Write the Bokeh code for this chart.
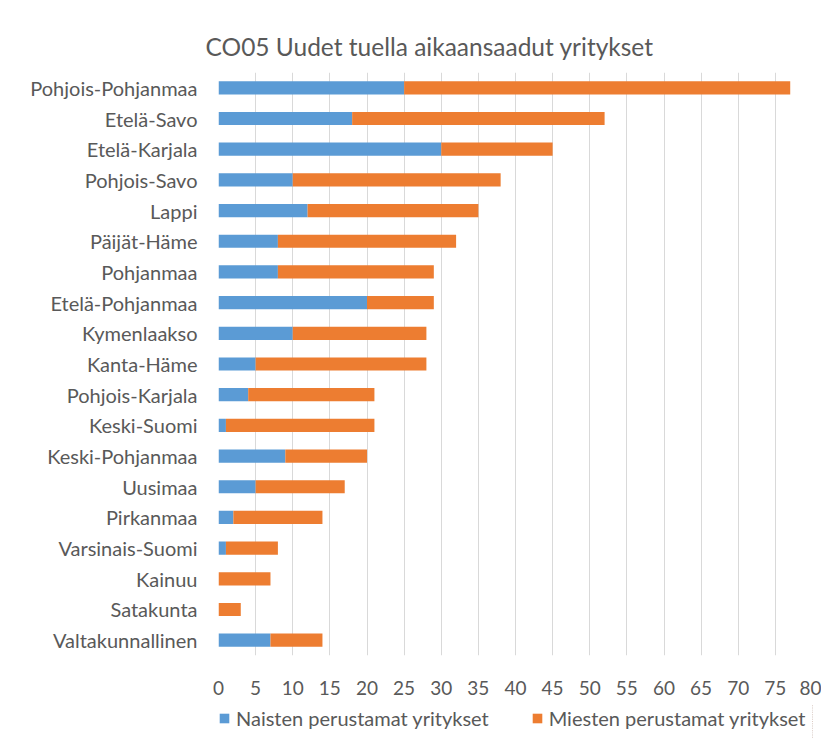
from bokeh.plotting import figure
from bokeh.layouts import column
from bokeh.models import ColumnDataSource, FactorRange, Range1d, FixedTicker, Legend, LegendItem
from bokeh.embed import file_html
from bokeh.resources import INLINE

regions = ["Pohjois-Pohjanmaa", "Etelä-Savo", "Etelä-Karjala", "Pohjois-Savo", "Lappi",
           "Päijät-Häme", "Pohjanmaa", "Etelä-Pohjanmaa", "Kymenlaakso", "Kanta-Häme",
           "Pohjois-Karjala", "Keski-Suomi", "Keski-Pohjanmaa", "Uusimaa", "Pirkanmaa",
           "Varsinais-Suomi", "Kainuu", "Satakunta", "Valtakunnallinen"]
naiset = [25, 18, 30, 10, 12, 8, 8, 20, 10, 5, 4, 1, 9, 5, 2, 1, 0, 0, 7]
miehet = [52, 34, 15, 28, 23, 24, 21, 9, 18, 23, 17, 20, 11, 12, 12, 7, 7, 3, 7]
x_ticks = list(range(0, 85, 5))

series_labels = ["Naisten perustamat yritykset", "Miesten perustamat yritykset"]
colors = ["#5B9BD5", "#ED7D31"]
FONT = "Lato"
TXT = "#595959"

source = ColumnDataSource(dict(region=regions, naiset=naiset, miehet=miehet))

p = figure(width=821, height=704, output_backend="svg", toolbar_location=None,
           y_range=FactorRange(factors=list(reversed(regions)), range_padding=0),
           x_range=Range1d(0, 80),
           title="CO05 Uudet tuella aikaansaadut yritykset")
p.min_border_left = 218
p.min_border_right = 9
p.min_border_top = 72
p.min_border_bottom = 49
p.outline_line_color = None

renderers = p.hbar_stack(["naiset", "miehet"], y="region", height=0.43, color=colors,
                         line_color=None, source=source)

p.title.align = "left"
p.title.offset = -13
p.title.text_font = FONT
p.title.text_font_size = "24.5px"
p.title.text_font_style = "normal"
p.title.text_color = TXT
p.title.standoff = 24

p.xaxis.ticker = FixedTicker(ticks=x_ticks)
p.xaxis.axis_line_color = None
p.xaxis.major_tick_line_color = None
p.xaxis.minor_tick_line_color = None
p.xaxis.major_tick_out = 0
p.xaxis.major_label_standoff = 25
p.xaxis.major_label_text_font = FONT
p.xaxis.major_label_text_font_size = "19px"
p.xaxis.major_label_text_color = TXT

p.yaxis.axis_line_color = None
p.yaxis.major_tick_line_color = None
p.yaxis.major_tick_out = 0
p.yaxis.major_label_standoff = 21
p.yaxis.major_label_text_font = FONT
p.yaxis.major_label_text_font_size = "20px"
p.yaxis.major_label_text_color = TXT

p.xgrid.grid_line_color = "#D9D9D9"
p.ygrid.grid_line_color = None

# legend strip below the chart (its series are kept out of view; only the legend shows)
p2 = figure(width=821, height=34, output_backend="svg", toolbar_location=None,
            min_border=0, outline_line_color=None,
            y_range=FactorRange(factors=list(reversed(regions))), x_range=Range1d(-20, -10))
p2.axis.visible = False
p2.grid.grid_line_color = None
leg_renderers = p2.hbar_stack(["naiset", "miehet"], y="region", height=0.43, color=colors,
                              line_color=None, source=source)
legend = Legend(items=[LegendItem(label=series_labels[i], renderers=[leg_renderers[i]]) for i in range(2)],
                orientation="horizontal", location=(0, 8),
                glyph_width=12, glyph_height=12, spacing=42, padding=2, margin=0,
                label_standoff=6,
                label_text_font=FONT, label_text_font_size="20px", label_text_color=TXT,
                border_line_color=None, background_fill_alpha=0)
p2.add_layout(legend, "center")

layout = column(p, p2, spacing=0)
open("out.html", "w").write(file_html(layout, INLINE))
